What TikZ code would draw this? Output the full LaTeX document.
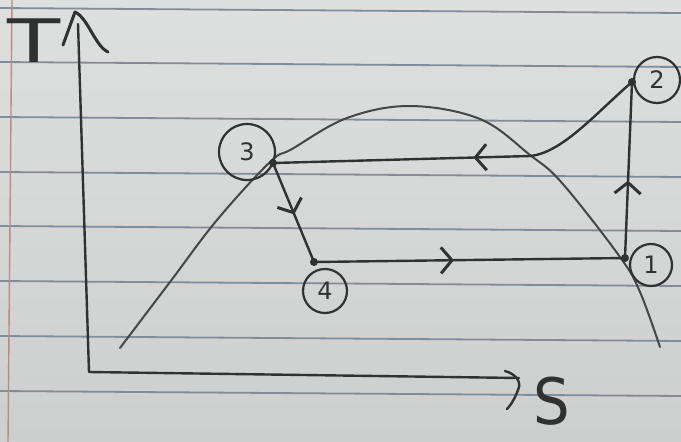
\documentclass[tikz,border=0pt]{standalone}
\usepackage{fontspec}
\setmainfont{DejaVu Sans}
\usetikzlibrary{arrows.meta,decorations.markings}
\definecolor{paperA}{HTML}{DEE0DF}
\definecolor{paperB}{HTML}{CDCFCE}
\definecolor{rulecol}{HTML}{7E8D99}
\definecolor{margincol}{HTML}{B98A8C}
\definecolor{pencol}{HTML}{303232}
\tikzset{
  pen/.style={draw=pencol, line width=2.4pt, line cap=round, line join=round},
  domeline/.style={draw=pencol!90, line width=2pt, line cap=round},
  ruled/.style={draw=rulecol, line width=1.8pt},
  statedot/.style={circle, fill=pencol, inner sep=0pt, minimum size=8pt},
  statelab/.style={circle, draw=pencol, line width=2.2pt, inner sep=0pt, text=pencol, font=\fontsize{24}{24}\selectfont},
  midarrow/.style={postaction={decorate, decoration={markings,
      mark=at position #1 with {\arrow[pencol, line width=3pt]{Straight Barb[length=11pt,width=26pt]}}}}}
}
\begin{document}
\begin{tikzpicture}[x=1pt,y=-1pt]
\useasboundingbox (0,0) rectangle (681,442);
\shade[top color=paperA, bottom color=paperB] (0,0) rectangle (681,442);
% ruled lines
\foreach \yy in {8,62,117,172,226,281,336,391}
  \draw[ruled] (0,\yy) -- (681,\yy+5);
% margin
\draw[margincol, line width=1.4pt] (12,0) -- (8,442);

% axes
\coordinate (o) at (89,372);
\coordinate (ty) at (78,24);
\coordinate (sx) at (519,378);
\draw[pen] (ty) -- (o) -- (sx);
% hand-drawn axis heads
\draw[pen, line width=3pt] (63,45) -- (75,12) .. controls (88,18) and (95,46) .. (108,52);
\draw[pen] (505,371) .. controls (516,374) and (522,382) .. (518,390)
  .. controls (515,398) and (511,405) .. (507,409);
\node[text=pencol, font=\fontsize{60}{60}\selectfont, xscale=1.45, inner sep=0pt] (tlab) at (34,41) {T};
\node[text=pencol, font=\fontsize{64}{64}\selectfont, xscale=0.9, inner sep=0pt] (slab) at (552,401) {S};

% saturation dome
\draw[domeline] plot[smooth, tension=0.6] coordinates {(120,348) (170,282) (217,220) (270,162) (292,149) (347,118) (410,106) (480,119) (530,155) (562,183) (620,257) (640,292) (660,347)};

% state points
\node[statedot] (p1) at (625,258) {};
\node[statedot] (p2) at (632,82) {};
\node[statedot] (p3) at (273,163) {};
\node[statedot] (p4) at (314,262) {};
\coordinate (k) at (530,156);

% labels
\node[statelab, minimum size=56pt] (l3) at (247,152) {3};
\node[statelab, minimum size=44pt] (l4) at (325,291) {4};
\node[statelab, minimum size=42pt] (l1) at (651,265) {1};
\node[statelab, minimum size=46pt] (l2) at (657,80) {2};

% cycle
\draw[pen, midarrow=0.52] (p3.center) -- (p4.center);
\draw[pen, midarrow=0.45] (p4.center) -- (p1.center);
\draw[pen, midarrow=0.44] (p1.center) -- (p2.center);
\draw[pen] (p2.center) .. controls (595,114) and (562,153) .. (k);
\draw[pen, midarrow=0.22] (k) -- (p3.center);
\end{tikzpicture}
\end{document}
